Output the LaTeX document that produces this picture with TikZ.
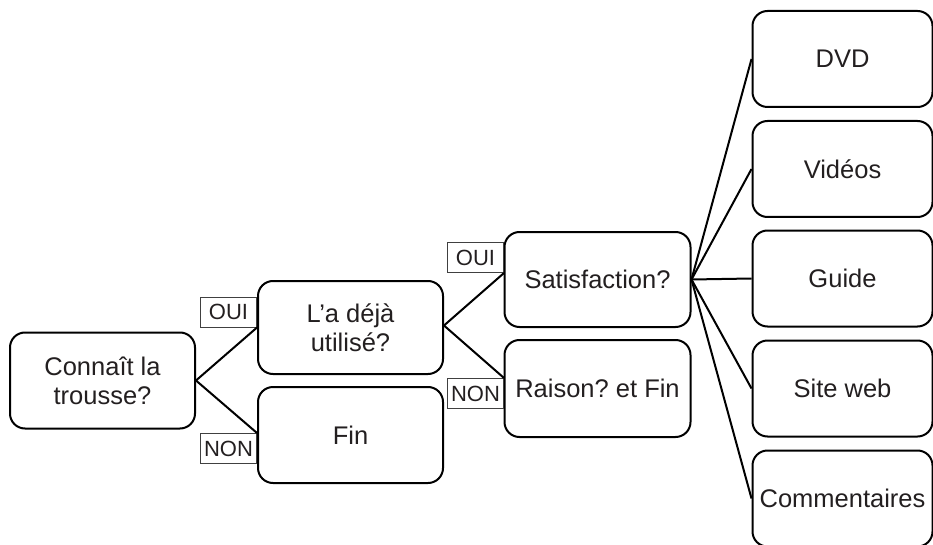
\documentclass[tikz,border=0pt]{standalone}
\usepackage{fontspec}
\setmainfont{Liberation Sans}
\definecolor{txt}{RGB}{35,31,32}
\frenchspacing
\begin{document}
\begin{tikzpicture}[x=1pt,y=-1pt,
  box/.style={draw=black, line width=2pt, rounded corners=15pt, inner sep=0pt,
    align=center, text=txt, font=\fontsize{25.5}{29}\selectfont,
    minimum height=96pt, minimum width=#1},
  box/.default=185pt,
  lab/.style={draw=black!75, line width=1pt, inner sep=0pt, minimum width=56pt,
    minimum height=30pt, text=txt, font=\fontsize{22}{24}\selectfont},
  conn/.style={draw=black, line width=2pt}]
\useasboundingbox (0,0) rectangle (933,545);
% first level
\node[box] (c1) at (102.5,380.5) {Connaît la\\trousse?};
\node[box, minimum height=93pt] (c2) at (350.5,327.5) {L’a déjà\\utilisé?};
\node[box] (fin) at (350.5,435) {Fin};
% second level
\node[box=186pt, minimum height=95pt] (sat) at (597.5,279.5) {Satisfaction?};
\node[box=186pt, minimum height=97pt] (rai) at (597.5,388.5) {Raison? et Fin};
% third level
\node[box=180pt] (dvd) at (842.5,59) {DVD};
\node[box=180pt] (vid) at (842.5,169) {Vidéos};
\node[box=180pt] (gui) at (842.5,278.5) {Guide};
\node[box=180pt] (web) at (842.5,388.5) {Site web};
\node[box=180pt] (com) at (842.5,498.5) {Commentaires};
% labels
\node[lab, anchor=south east] (oui1) at (257,327.5) {OUI};
\node[lab, anchor=north east] (non1) at (257,433) {NON};
\node[lab, anchor=south east] (oui2) at (504,273) {OUI};
\node[lab, anchor=north east] (non2) at (504,378) {NON};
% connectors
\draw[conn] (c1.east) -- (c2.west);
\draw[conn] (c1.east) -- ([yshift=2pt]fin.west);
\draw[conn] ([yshift=2pt]c2.east) -- (oui2.south east);
\draw[conn] ([yshift=2pt]c2.east) -- (non2.north east);
\foreach \t in {dvd,vid,gui,web,com}
  \draw[conn] (sat.east) -- (\t.west);
\end{tikzpicture}
\end{document}
